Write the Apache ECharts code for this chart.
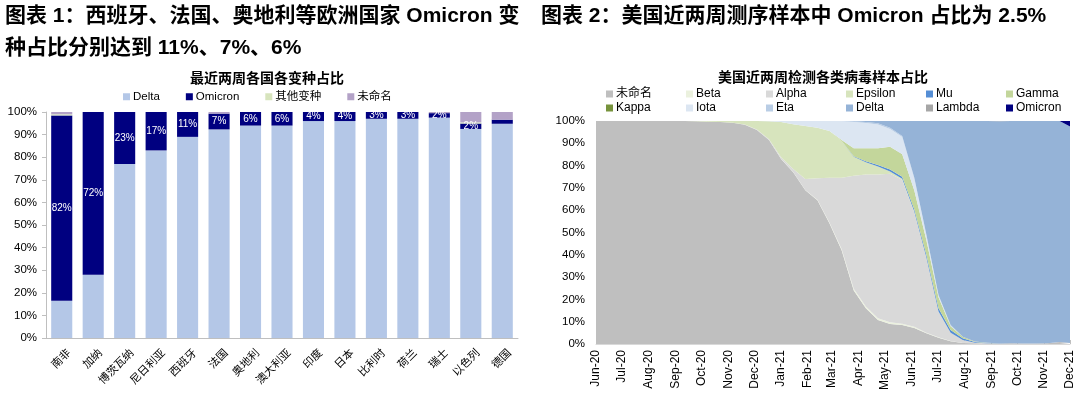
<!DOCTYPE html>
<html><head><meta charset="utf-8">
<script src="https://cdn.jsdelivr.net/npm/echarts@6/dist/echarts.min.js"></script>
<style>
html,body{margin:0;padding:0;background:#fff;overflow:hidden;width:1080px;height:398px}
#c1{position:absolute;left:0;top:0;width:540px;height:398px}
#c2{position:absolute;left:540px;top:0;width:540px;height:398px}
</style>
</head><body><div id="c1"></div><div id="c2"></div>
<script>
const FONT = "'Liberation Sans','Noto Sans CJK SC',sans-serif";

// ---------- Figure 1 data ----------
const title1Lines = ['图表 1：西班牙、法国、奥地利等欧洲国家 Omicron 变', '种占比分别达到 11%、7%、6%'];
const chart1Title = '最近两周各国各变种占比';
const countries = ['南非','加纳','博茨瓦纳','尼日利亚','西班牙','法国','奥地利','澳大利亚','印度','日本','比利时','荷兰','瑞士','以色列','德国'];
const deltaShare   = [16.5, 28, 77, 83, 89, 92.3, 94, 94, 96, 96, 97, 97, 97.5, 92.5, 94.8];
const omicronShare = [82, 72, 23, 17, 11, 7, 6, 6, 4, 4, 3, 3, 2, 2.4, 1.8];
const otherShare   = [0.5, 0, 0, 0, 0, 0, 0, 0, 0, 0, 0, 0, 0, 0.5, 0];
const unnamedShare = [1, 0, 0, 0, 0, 0.7, 0, 0, 0, 0, 0, 0, 0.5, 4.6, 3.4];
const legend1Names = ['Delta','Omicron','其他变种','未命名'];

// ---------- Figure 2 data ----------
const title2 = '图表 2：美国近两周测序样本中 Omicron 占比为 2.5%';
const chart2Title = '美国近两周检测各类病毒样本占比';
const monthNames = ['Jan','Feb','Mar','Apr','May','Jun','Jul','Aug','Sep','Oct','Nov','Dec'];
const dates = ['2020-06-01','2020-06-19','2020-07-03','2020-07-17','2020-07-31','2020-08-14','2020-08-28','2020-09-11','2020-09-25','2020-10-09',
  '2020-10-23','2020-11-06','2020-11-20','2020-12-04','2020-12-18','2021-01-01','2021-01-15','2021-01-29','2021-02-12','2021-02-26',
  '2021-03-12','2021-03-26','2021-04-09','2021-04-23','2021-05-07','2021-05-21','2021-06-04','2021-06-18','2021-07-02','2021-07-16',
  '2021-07-30','2021-08-13','2021-08-27','2021-09-10','2021-09-24','2021-10-08','2021-10-22','2021-11-05','2021-11-19','2021-12-01'];
const vUnnamed = [100,100,100,100,100,100,100,100,99.9,99.7,99.5,99.2,98.3,96,91.5,83,77,69,64.5,54,42,24,16,10.8,9,8.5,7.2,4.8,2.8,1.2,0.5,0.3,0.2,0.2,0.3,0.2,0.2,0.3,0.9,0.5];
const vBeta    = [0,0,0,0,0,0,0,0,0,0,0,0,0,0,0,0.1,0.1,0.1,0.2,0.4,0.6,0.8,0.8,0.8,0.8,0.6,0.5,0.3,0.2,0.1,0,0,0,0,0,0,0,0,0,0];
const vAlpha   = [0,0,0,0,0,0,0,0,0,0,0,0,0.1,0.2,0.3,0.6,1.4,4.9,9.6,20.1,31.9,50.7,59.2,64.4,66.5,64.6,51.3,33.4,11.5,3.7,1.3,0.3,0.1,0,0,0,0,0,0,0];
const vEpsilon = [0,0,0,0,0,0,0,0,0.1,0.3,0.5,0.8,1.6,3.8,8.1,15.8,20,23.8,22.7,21,16.5,8.5,5.5,3.6,1.1,0.4,0.3,0.2,0.1,0,0,0,0,0,0,0,0,0,0,0];
const vMu      = [0,0,0,0,0,0,0,0,0,0,0,0,0,0,0,0,0,0,0,0,0,0.2,0.5,0.7,0.8,0.9,1.0,1.2,1.4,1.3,0.8,0.3,0.2,0.1,0,0,0,0,0,0];
const vGamma   = [0,0,0,0,0,0,0,0,0,0,0,0,0,0,0,0,0,0,0,0,0.5,3.6,5.8,7.5,10.3,10,8.4,6.6,5.0,1.7,0.6,0.2,0.1,0,0,0,0,0,0,0];
const vKappa   = [0,0,0,0,0,0,0,0,0,0,0,0,0,0,0,0,0,0,0,0,0,0,0,0,0,0.1,0.1,0,0,0,0,0,0,0,0,0,0,0,0,0];
const vIota    = [0,0,0,0,0,0,0,0,0,0,0,0,0,0,0.1,0.5,1.5,2.2,3,4.5,8.5,11.7,11.3,10.6,7.9,7.7,5.3,2.1,0.7,0.2,0,0,0,0,0,0,0,0,0,0];
const vEta     = [0,0,0,0,0,0,0,0,0,0,0,0,0,0,0,0,0,0,0,0,0,0.4,0.5,0.6,0.6,0.5,0.5,0.4,0.3,0.3,0.1,0,0,0,0,0,0,0,0,0];
const vDelta   = [0,0,0,0,0,0,0,0,0,0,0,0,0,0,0,0,0,0,0,0,0,0.1,0.4,1.0,3.0,6.7,25.4,51.0,78.0,91.5,96.7,98.9,99.4,99.6,99.7,99.8,99.8,99.7,99.1,97.0];
const vLambda  = [0,0,0,0,0,0,0,0,0,0,0,0,0,0,0,0,0,0,0,0,0,0,0,0,0,0,0,0,0,0,0,0,0,0.1,0,0,0,0,0,0];
const vOmicron = [0,0,0,0,0,0,0,0,0,0,0,0,0,0,0,0,0,0,0,0,0,0,0,0,0,0,0,0,0,0,0,0,0,0,0,0,0,0,0,2.5];
const variantNames = ['未命名','Beta','Alpha','Epsilon','Mu','Gamma','Kappa','Iota','Eta','Delta','Lambda','Omicron'];
const variantValues = [vUnnamed,vBeta,vAlpha,vEpsilon,vMu,vGamma,vKappa,vIota,vEta,vDelta,vLambda,vOmicron];
const variantColors = ['#BFBFBF','#EBF1DE','#D9D9D9','#D7E4BD','#558ED5','#C3D69B','#77933C','#DCE6F2','#B9CDE5','#95B3D7','#A6A6A6','#000080'];
const legendColumns = [['未命名','Kappa'],['Beta','Iota'],['Alpha','Eta'],['Epsilon','Delta'],['Mu','Lambda'],['Gamma','Omicron']];

// ---------- Figure 1 ----------
const bar1Colors = ['#B4C7E7','#000080','#D7E4BD','#B3A2C7'];
const bar1Values = [deltaShare, omicronShare, otherShare, unnamedShare];
const chart1 = echarts.init(document.getElementById('c1'));
chart1.setOption({
  animation:false,
  textStyle:{fontFamily:FONT},
  title:[
    {text:title1Lines.join('\n'), left:5, top:0, padding:0,
     textStyle:{fontFamily:FONT,fontSize:21,fontWeight:'bold',color:'#000',lineHeight:32}},
    {text:chart1Title, left:267, textAlign:'center', top:72, padding:0,
     textStyle:{fontFamily:FONT,fontSize:14,fontWeight:'bold',color:'#000'}}
  ],
  legend:{left:123, top:91, padding:0, itemWidth:7, itemHeight:7, itemGap:26, icon:'rect',
    textStyle:{fontFamily:FONT,fontSize:11.5,color:'#000',padding:[0,0,0,-2]}, data:legend1Names},
  grid:{left:46, right:22, top:112, bottom:60},
  xAxis:{type:'category', data:countries,
    axisLine:{lineStyle:{color:'#BFBFBF'}},
    axisTick:{length:4, lineStyle:{color:'#BFBFBF'}},
    axisLabel:{rotate:45, fontSize:11, color:'#000', interval:0, margin:6, fontFamily:FONT,
      verticalAlign:'top', padding:[5,0,0,0]}},
  yAxis:{type:'value', min:0, max:100, interval:10,
    axisLine:{show:true, lineStyle:{color:'#BFBFBF'}},
    axisTick:{show:true, length:4, lineStyle:{color:'#BFBFBF'}},
    splitLine:{show:false},
    axisLabel:{formatter:'{value}%', fontSize:11.5, color:'#000', margin:9, fontFamily:FONT}},
  series: legend1Names.map((name,i)=>({
    name, type:'bar', stack:'s', barCategoryGap:'33%',
    itemStyle:{color:bar1Colors[i]},
    data: bar1Values[i],
    label: i===1 ? {show:true, position:'inside', color:'#fff', fontSize:10, fontFamily:FONT,
      formatter:p=> p.value>=2 ? Math.round(p.value)+'%' : ''} : {show:false}
  }))
});

// ---------- Figure 2 ----------
const chart2 = echarts.init(document.getElementById('c2'));
const fmtMonth = v => { const d = new Date(v); return monthNames[d.getMonth()] + '-' + String(d.getFullYear()).slice(2); };
const colX = [66, 146, 226, 306, 386, 466];
chart2.setOption({
  animation:false,
  textStyle:{fontFamily:FONT},
  title:[
    {text:title2, left:1, top:0, padding:0,
     textStyle:{fontFamily:FONT,fontSize:21,fontWeight:'bold',color:'#000',lineHeight:32}},
    {text:chart2Title, left:283, textAlign:'center', top:71, padding:0,
     textStyle:{fontFamily:FONT,fontSize:14,fontWeight:'bold',color:'#000'}}
  ],
  legend: legendColumns.map((col,i)=>({
    orient:'vertical', left:colX[i], top:87, padding:0, itemGap:0,
    itemWidth:7, itemHeight:7, icon:'rect',
    textStyle:{fontFamily:FONT,fontSize:12,color:'#000',lineHeight:14,padding:[0,0,0,-2]},
    data:col
  })),
  grid:{left:56, right:10, top:121, bottom:54},
  xAxis:{type:'time', min:new Date(2020,5,1).getTime(), max:new Date(2021,11,1).getTime(),
    splitNumber:18, minInterval:28*864e5, maxInterval:31*864e5,
    axisLine:{lineStyle:{color:'#D9D9D9'}},
    axisTick:{show:true, inside:true, length:4, lineStyle:{color:'#BFBFBF'}},
    splitLine:{show:false},
    axisLabel:{rotate:90, fontSize:12, color:'#000', margin:6, hideOverlap:false,
      showMinLabel:true, showMaxLabel:true, formatter:fmtMonth, fontFamily:FONT}},
  yAxis:{type:'value', min:0, max:100, interval:10,
    axisLine:{show:false}, axisTick:{show:false}, splitLine:{show:false},
    axisLabel:{formatter:'{value}%', fontSize:11.5, color:'#000', margin:11, fontFamily:FONT}},
  series: variantNames.map((name,i)=>({
    name, type:'line', stack:'v', symbol:'none', showSymbol:false,
    itemStyle:{color:variantColors[i]},
    lineStyle:{width:0, color:variantColors[i]},
    areaStyle:{color:variantColors[i], opacity:1},
    data: dates.map((d,j)=>[d, variantValues[i][j]])
  }))
});
</script>
</body></html>
